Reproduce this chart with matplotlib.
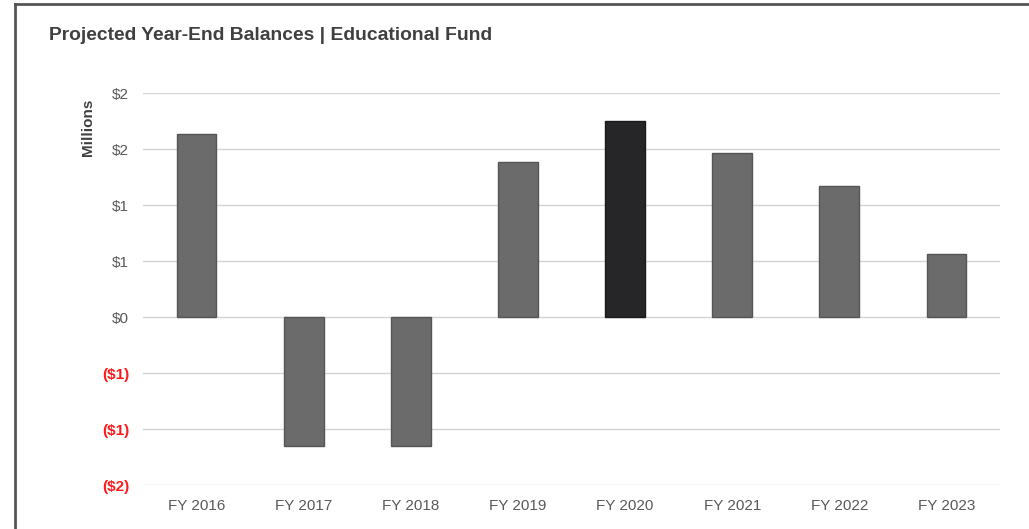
import matplotlib
matplotlib.use("Agg")
import matplotlib.pyplot as plt
from matplotlib.lines import Line2D

categories = ["FY 2016", "FY 2017", "FY 2018", "FY 2019", "FY 2020", "FY 2021", "FY 2022", "FY 2023"]
balances = [1.63, -1.15, -1.15, 1.38, 1.75, 1.46, 1.17, 0.56]  # millions
highlight = "FY 2020"
ytick_values = [2.0, 1.5, 1.0, 0.5, 0.0, -0.5, -1.0, -1.5]
ytick_labels = ["$2", "$2", "$1", "$1", "$0", "($1)", "($1)", "($2)"]

plt.rcParams['font.family'] = ['Liberation Sans', 'DejaVu Sans']

fig = plt.figure(figsize=(10.29, 5.29), dpi=100)
fig.patch.set_facecolor("white")
ax = fig.add_axes([143/1029, 1-485/529, (1000-143)/1029, (485-93)/529])

x = list(range(len(categories)))
colors = ["#262628" if c == highlight else "#6b6b6b" for c in categories]
edges = ["#1a1a1a" if c == highlight else "#555555" for c in categories]
ax.bar(x, balances, width=0.37, color=colors, edgecolor=edges, linewidth=1, zorder=3)

ax.set_xlim(-0.5, len(categories) - 0.5)
ax.set_ylim(min(ytick_values), max(ytick_values))
ax.set_yticks(ytick_values)
ax.set_yticklabels(ytick_labels)
for lbl, v in zip(ax.get_yticklabels(), ytick_values):
    lbl.set_fontsize(11)
    if v < 0:
        lbl.set_color("#ff1a1a")
        lbl.set_fontweight("bold")
    else:
        lbl.set_color("#595959")
ax.set_xticks(x)
ax.set_xticklabels(categories, fontsize=11, color="#595959")
ax.tick_params(axis="both", length=0)
ax.tick_params(axis="y", pad=10)
ax.tick_params(axis="x", pad=10)
ax.grid(axis="y", color="#d4d4d4", linewidth=1, zorder=0)
for s in ax.spines.values():
    s.set_visible(False)
ax.set_facecolor("none")

fig.text(88/1029, 1-127/529, "Millions", rotation=90, ha="center", va="center",
         fontsize=11, fontweight="bold", color="#404040")
fig.text(49/1029, 1-36/529, "Projected Year-End Balances | Educational Fund",
         ha="left", va="center", fontsize=13.9, fontweight="bold", color="#404040")

# outer frame (top and left edges)
fig.add_artist(Line2D([15/1029, 15/1029], [0, 1-4/529], transform=fig.transFigure,
                      color="#555555", linewidth=2))
fig.add_artist(Line2D([15/1029, 1], [1-4/529, 1-4/529], transform=fig.transFigure,
                      color="#555555", linewidth=2))

fig.savefig("out.png", dpi=100)
